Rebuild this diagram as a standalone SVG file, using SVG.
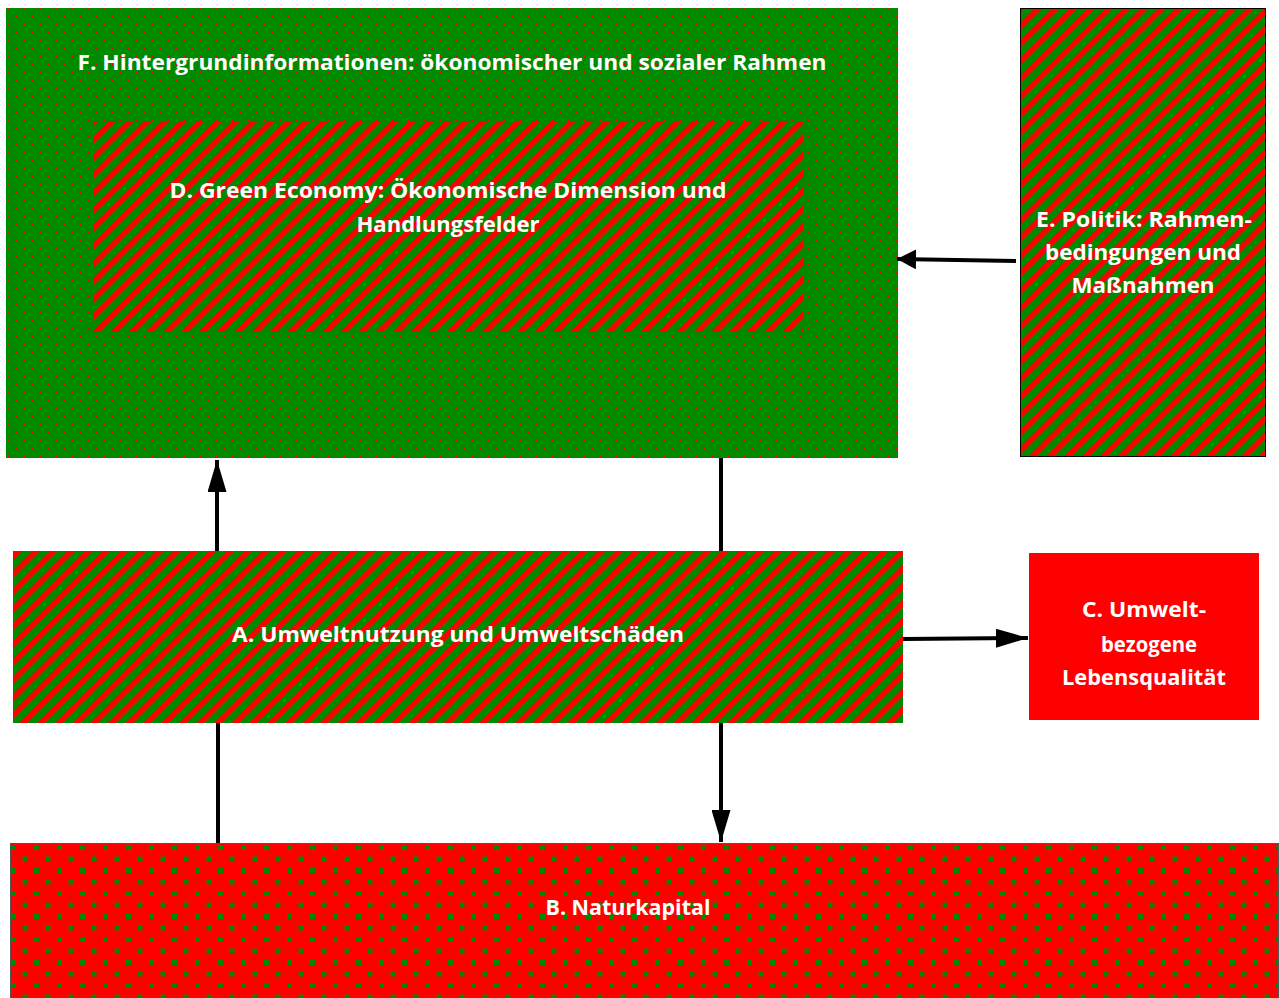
<svg xmlns="http://www.w3.org/2000/svg" width="1279" height="998" viewBox="0 0 1279 998">
<style>
.lbl{font-family:"Open Sans","Liberation Sans",sans-serif;font-weight:bold;font-size:21px;fill:#ffffff;text-anchor:middle}
.con{stroke:#000;stroke-width:4;fill:none}
</style>
<defs>
<pattern id="dotsG" width="16" height="16" patternUnits="userSpaceOnUse">
<rect width="16" height="16" fill="#008a00"/>
<rect x="0" y="0" width="2" height="2" fill="#ff0000"/>
<rect x="8" y="8" width="2" height="2" fill="#ff0000"/>
</pattern>
<pattern id="dotsR" width="23" height="23" patternUnits="userSpaceOnUse" x="10" y="845">
<rect width="23" height="23" fill="#ff0000"/>
<rect x="1" y="0" width="5" height="5" fill="#008a00"/>
<rect x="12.5" y="11.5" width="5" height="5" fill="#008a00"/>
</pattern>
<pattern id="stripes" width="12.5" height="12.5" patternUnits="userSpaceOnUse" patternTransform="rotate(45)">
<rect width="12.5" height="12.5" fill="#008a00"/>
<rect x="0" y="0" width="5.5" height="12.5" fill="#ff0000"/>
</pattern>
<marker id="ahL" viewBox="0 0 32 19" refX="32" refY="9.5" markerWidth="8" markerHeight="4.75" orient="auto" markerUnits="strokeWidth">
<path d="M0,0 L32,9.5 L0,19 z" fill="#000"/>
</marker>
<marker id="ahS" viewBox="0 0 19 20" refX="19" refY="10" markerWidth="4.75" markerHeight="5" orient="auto" markerUnits="strokeWidth">
<path d="M0,0 L19,10 L0,20 z" fill="#000"/>
</marker>
</defs>
<rect width="1279" height="998" fill="#ffffff"/>
<g id="nodeF">
<rect x="6" y="8" width="892" height="450" fill="url(#dotsG)"/>
<text class="lbl" x="452" y="70" textLength="749" lengthAdjust="spacingAndGlyphs">F. Hintergrundinformationen:  ökonomischer  und sozialer  Rahmen</text>
</g>
<g id="nodeD">
<rect x="94" y="121" width="709" height="211" fill="url(#stripes)"/>
<text class="lbl" x="448" y="198" textLength="557" lengthAdjust="spacingAndGlyphs">D. Green Economy: Ökonomische  Dimension  und</text>
<text class="lbl" x="448" y="232" textLength="183" lengthAdjust="spacingAndGlyphs">Handlungsfelder</text>
</g>
<g id="nodeE">
<rect x="1020.5" y="8.5" width="245" height="448" fill="url(#stripes)" stroke="#000" stroke-width="1"/>
<text class="lbl" x="1144" y="227" textLength="216" lengthAdjust="spacingAndGlyphs">E. Politik: Rahmen-</text>
<text class="lbl" x="1143" y="260" textLength="196" lengthAdjust="spacingAndGlyphs">bedingungen und</text>
<text class="lbl" x="1143" y="293" textLength="143" lengthAdjust="spacingAndGlyphs">Maßnahmen</text>
</g>
<g id="nodeA">
<rect x="13" y="551" width="890" height="172" fill="url(#stripes)"/>
<text class="lbl" x="458" y="642" textLength="452" lengthAdjust="spacingAndGlyphs">A. Umweltnutzung  und Umweltschäden</text>
</g>
<g id="nodeC">
<rect x="1029" y="553" width="230" height="167" fill="#ff0000"/>
<text class="lbl" x="1144" y="617" textLength="124" lengthAdjust="spacingAndGlyphs">C. Umwelt-</text>
<text class="lbl" x="1149" y="652" textLength="96" lengthAdjust="spacingAndGlyphs">bezogene</text>
<text class="lbl" x="1144" y="685" textLength="164" lengthAdjust="spacingAndGlyphs">Lebensqualität</text>
</g>
<g id="nodeB">
<rect x="10.5" y="843.5" width="1268" height="160" fill="url(#dotsR)" stroke="#555" stroke-width="1"/>
<text class="lbl" x="628" y="915" textLength="165" lengthAdjust="spacingAndGlyphs">B. Naturkapital</text>
</g>
<g id="connectors">
<line class="con" x1="1016" y1="261" x2="897" y2="259" marker-end="url(#ahS)"/>
<line class="con" x1="721" y1="458" x2="721" y2="551"/>
<line class="con" x1="217" y1="551" x2="217" y2="460" marker-end="url(#ahL)"/>
<line class="con" x1="903" y1="639" x2="1028" y2="638" marker-end="url(#ahL)"/>
<line class="con" x1="721" y1="723" x2="721" y2="842" marker-end="url(#ahL)"/>
<line class="con" x1="218" y1="843" x2="218" y2="723"/>
</g>
</svg>
